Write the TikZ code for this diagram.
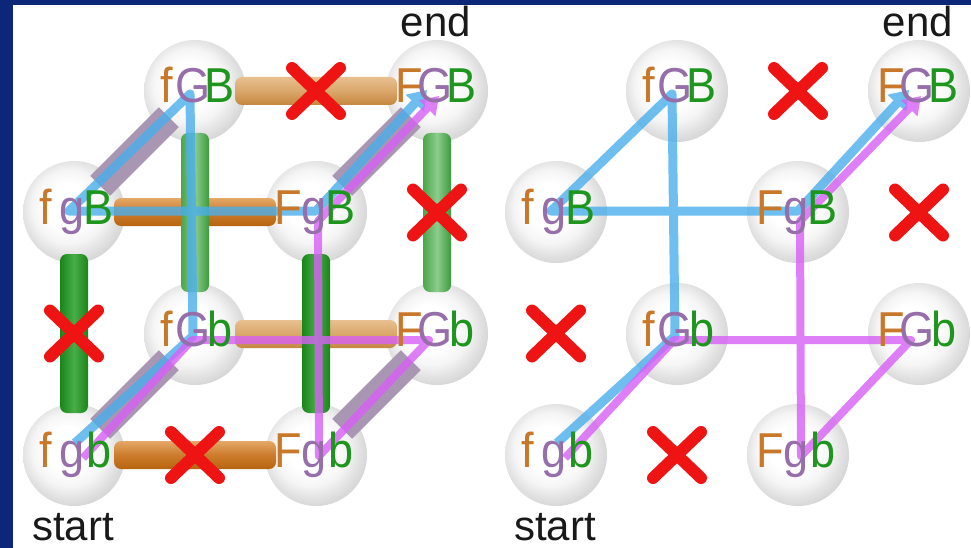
\documentclass[tikz,border=0pt]{standalone}
\usepackage{fontspec}
\setmainfont{Liberation Sans}
\newfontfamily\lblfont[FakeStretch=0.92]{Liberation Sans}
\usetikzlibrary{calc,arrows.meta}
\definecolor{navy}{RGB}{12,38,120}
\definecolor{cF}{RGB}{200,120,40}
\definecolor{cG}{RGB}{150,110,170}
\definecolor{cB}{RGB}{30,150,30}
\definecolor{pathblue}{RGB}{74,174,236}
\definecolor{pathpurple}{RGB}{216,96,246}
\definecolor{xred}{RGB}{238,20,20}
\definecolor{mauve}{RGB}{168,150,178}
\pgfdeclareradialshading{sphereshade}{\pgfpoint{-4bp}{4bp}}{color(0bp)=(white); color(11bp)=(white); color(18bp)=(white!96!black); color(23bp)=(white!89!black); color(28bp)=(white!83!black); color(50bp)=(white!83!black)}
\newcommand{\cubespheres}[2]{%
 \node[sphere] (#1fgb) at (#2+74,455) {};
 \node[sphere] (#1Fgb) at (#2+316,455) {};
 \node[sphere] (#1fgB) at (#2+74,212) {};
 \node[sphere] (#1FgB) at (#2+316,212) {};
 \node[sphere] (#1fGb) at (#2+195,334) {};
 \node[sphere] (#1FGb) at (#2+437,334) {};
 \node[sphere] (#1fGB) at (#2+195,91) {};
 \node[sphere] (#1FGB) at (#2+437,91) {};}
\newcommand{\cubepaths}[1]{%
 \begin{scope}[transparency group, opacity=0.8]
 \draw[bluepath] ($(#1fgb)+(1,-12)$) -- ($(#1fGb)+(-2,2)$) -- ($(#1fGB)+(-5,3)$) -- ($(#1fgB)+(-5,-1)$) -- ($(#1FgB)+(0,-1)$) -- ($(#1FGB)+(-10,-1)$);
 \end{scope}
 \begin{scope}[transparency group, opacity=0.8]
 \draw[purplepath] ($(#1fgb)+(9,3)$) -- ($(#1fGb)+(-3,6)$) -- ($(#1FGb)+(-8,6)$) -- ($(#1Fgb)+(3,1)$) -- ($(#1FgB)+(2,9)$) -- ($(#1FGB)+(2,5)$);
 \end{scope}}
\newcommand{\trio}[4]{%
 \node[lbl,text=cF] (#1-a) at ($(#1)+(-28,12)$) {#2};
 \node[lbl,text=cG] (#1-b) at ($(#1)+(-2,12)$) {#3};
 \node[lbl,text=cB] (#1-c) at ($(#1)+(25,12)$) {#4};}
\newcommand{\cubelabels}[1]{%
 \trio{#1fgb}{f}{g}{b}\trio{#1Fgb}{F}{g}{b}\trio{#1fgB}{f}{g}{B}\trio{#1FgB}{F}{g}{B}%
 \trio{#1fGb}{f}{G}{b}\trio{#1FGb}{F}{G}{b}\trio{#1fGB}{f}{G}{B}\trio{#1FGB}{F}{G}{B}}
\newcommand{\redx}[2]{\draw[xmark] ($(#1)!0.5!(#2)+(-24,-23)$) -- ($(#1)!0.5!(#2)+(24,23)$) ($(#1)!0.5!(#2)+(24,-23)$) -- ($(#1)!0.5!(#2)+(-24,23)$);}
\newcommand{\cubexes}[1]{\redx{#1fGB}{#1FGB}\redx{#1FGB}{#1FGb}\redx{#1fgB}{#1fgb}\redx{#1fgb}{#1Fgb}}
\begin{document}
\begin{tikzpicture}[x=1pt,y=-1pt,
  sphere/.style={circle, minimum size=102pt, inner sep=0pt, shading=sphereshade},
  lbl/.style={anchor=base, inner sep=0pt, font=\lblfont\fontsize{49}{58}\selectfont},
  tag/.style={anchor=base, inner sep=0pt, font=\fontsize{42}{50}\selectfont, text=black!90},
  xmark/.style={draw=xred, line width=12pt, line cap=round},
  bluepath/.style={draw=pathblue, line width=9pt, line join=round, -{Triangle[width=24pt,length=18pt]}},
  purplepath/.style={draw=pathpurple, line width=8pt, line join=round, -{Triangle[width=22pt,length=17pt]}},
  diagrod/.style={draw=mauve, line width=28pt, shorten <=37pt, shorten >=37pt},
  tanrod/.style={rounded corners=7pt, top color={rgb,255:red,232;green,192;blue,144}, bottom color={rgb,255:red,196;green,135;blue,63}, middle color={rgb,255:red,218;green,166;blue,106}},
  brownrod/.style={rounded corners=7pt, top color={rgb,255:red,228;green,168;blue,104}, bottom color={rgb,255:red,184;green,100;blue,16}, middle color={rgb,255:red,204;green,124;blue,44}},
  greenfront/.style={rounded corners=7pt, left color={rgb,255:red,26;green,134;blue,26}, right color={rgb,255:red,26;green,134;blue,26}, middle color={rgb,255:red,72;green,172;blue,72}},
  greenback/.style={rounded corners=7pt, left color={rgb,255:red,74;green,166;blue,74}, right color={rgb,255:red,60;green,154;blue,60}, middle color={rgb,255:red,140;green,204;blue,140}},
]
\fill[white] (0,0) rectangle (971,548);
\fill[navy] (0,0) rectangle (13,548);
\fill[navy] (0,0) rectangle (971,5);
\useasboundingbox (0,0) rectangle (971,548);
% spheres
\cubespheres{L}{0}
\cubespheres{R}{482}
% rods of the left cube
\shade[tanrod] ($(LfGB)+(40,-14)$) rectangle ($(LFGB)+(-40,14)$);
\shade[tanrod] ($(LfGb)+(40,-14)$) rectangle ($(LFGb)+(-40,14)$);
\shade[brownrod] ($(LfgB)+(40,-14)$) rectangle ($(LFgB)+(-40,14)$);
\shade[brownrod] ($(Lfgb)+(40,-14)$) rectangle ($(LFgb)+(-40,14)$);
\shade[greenback] ($(LfGB)+(-14,42)$) rectangle ($(LfGb)+(14,-42)$);
\shade[greenback] ($(LFGB)+(-14,42)$) rectangle ($(LFGb)+(14,-42)$);
\shade[greenfront] ($(LfgB)+(-14,42)$) rectangle ($(Lfgb)+(14,-42)$);
\shade[greenfront] ($(LFgB)+(-14,42)$) rectangle ($(LFgb)+(14,-42)$);
\draw[diagrod] (LfgB.center) -- (LfGB.center);
\draw[diagrod] (LFgB.center) -- (LFGB.center);
\draw[diagrod] (Lfgb.center) -- (LfGb.center);
\draw[diagrod] (LFgb.center) -- (LFGb.center);
% solution paths
\cubepaths{L}
\cubepaths{R}
% labels
\cubelabels{L}
\cubelabels{R}
% forbidden moves
\cubexes{L}
\cubexes{R}
% start / end
\node[tag] (Lend) at ($(LFGB)+(-1,-54)$) {end};
\node[tag] (Rend) at ($(RFGB)+(-1,-54)$) {end};
\node[tag] (Lstart) at ($(Lfgb)+(-1,85)$) {start};
\node[tag] (Rstart) at ($(Rfgb)+(-1,85)$) {start};
\end{tikzpicture}
\end{document}
